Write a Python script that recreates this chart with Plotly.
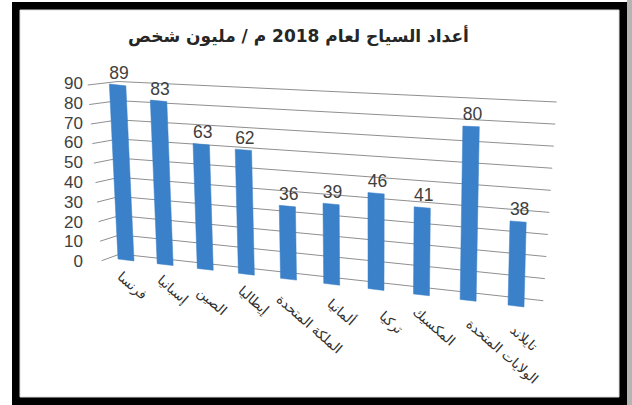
import plotly.graph_objects as go

# ---- data ----
categories = ["فرنسا", "إسبانيا", "الصين", "إيطاليا", "الملكة المتحدة",
              "ألمانيا", "تركيا", "المكسيك", "الولايات المتحدة", "تايلاند"]
tourists = [89, 83, 63, 62, 36, 39, 46, 41, 80, 38]
axis_ticks = [0, 10, 20, 30, 40, 50, 60, 70, 80, 90]
title_text = "أعداد السياح لعام 2018 م / مليون شخص"

# ---- perspective set-up (page pixels of the tilted plot planes) ----
W, H = 632, 405
AXIS_MAX = 90
BAR_PLANE = dict(a=(126, 260), b=(516, 306), c=(117.5, 83), d=(521, 106))
BACK_WALL = dict(a=(120, 254), b=(543.3, 300.7), c=(118, 81.5), d=(556.7, 102))
SIDE_WALL = dict(a=(101.7, 260.7), b=(120, 254), c=(87.7, 85), d=(118, 81.5))
DEPTH = 1.12
BAR_HALF = 0.0205
LABEL_SHIFT = [(-14, 7), (-13, 6), (-13, 13), (-13, 7), (-16, 10),
               (-9, 9), (-2, 17), (-13, 7), (-7, 14), (-10, 14)]


def warp(plane, s, t):
    out = []
    for k in (0, 1):
        out.append((1 - s) * (1 - t) * plane["a"][k] + s * (1 - t) * plane["b"][k]
                   + (1 - s) * t * plane["c"][k] + s * t * plane["d"][k])
    return out


def bar_point(s, t):
    # the bars' height grows faster towards the near (right) end of the plane
    x, y = warp(BAR_PLANE, s, t)
    base_y = warp(BAR_PLANE, s, 0)[1]
    h0 = BAR_PLANE["a"][1] - BAR_PLANE["c"][1]
    h1 = BAR_PLANE["b"][1] - BAR_PLANE["d"][1]
    return [x, base_y - t * (h0 + (h1 - h0) * max(s, 0) ** 1.6)]


def slot(i):
    u = i / (len(categories) - 1)
    return u / (u + DEPTH * (1 - u))


fig = go.Figure()

# frame
shapes = [
    dict(type="rect", xref="x", yref="y", x0=627, x1=632, y0=0, y1=405,
         fillcolor="#b4b4b4", line_width=0, layer="below"),
    dict(type="rect", xref="x", yref="y", x0=12, x1=627, y0=2, y1=405,
         fillcolor="#000000", line_width=0, layer="below"),
    dict(type="rect", xref="x", yref="y", x0=20, x1=619, y0=10, y1=397,
         fillcolor="#ffffff", line=dict(color="#dddddd", width=1), layer="below"),
]

# gridlines
for v in axis_ticks:
    t = v / AXIS_MAX
    p0 = warp(SIDE_WALL, 0, t)
    p1 = warp(BACK_WALL, 0, t)
    p2 = warp(BACK_WALL, 1, t)
    fig.add_trace(go.Scatter(x=[p0[0], p1[0], p2[0]], y=[p0[1], p1[1], p2[1]], mode="lines",
                             line=dict(color="#8f8f8f", width=1), hoverinfo="skip"))

# bars
for i, (name, v) in enumerate(zip(categories, tourists)):
    s = slot(i)
    t = v / AXIS_MAX
    corners = [bar_point(s - BAR_HALF, 0), bar_point(s + BAR_HALF, 0),
               bar_point(s + BAR_HALF, t), bar_point(s - BAR_HALF, t)]
    corners.append(corners[0])
    fig.add_trace(go.Scatter(x=[c[0] for c in corners], y=[c[1] for c in corners], mode="lines",
                             fill="toself", fillcolor="#3b81c9", line=dict(color="#3b81c9", width=0.5),
                             name=name))

# value labels
tops = [bar_point(slot(i), v / AXIS_MAX) for i, v in enumerate(tourists)]
fig.add_trace(go.Scatter(x=[p[0] + 1.5 for p in tops], y=[p[1] - 10.5 for p in tops],
                         mode="text", text=[str(v) for v in tourists], textposition="middle center",
                         textfont=dict(family="Liberation Sans", size=17.5, color="#404040"), hoverinfo="skip"))

# value-axis labels
fig.add_trace(go.Scatter(x=[83] * len(axis_ticks), y=[263 - 19.8 * v / 10 for v in axis_ticks],
                         mode="text", text=[str(v) for v in axis_ticks], textposition="middle left",
                         textfont=dict(family="Liberation Sans", size=17, color="#404040"), hoverinfo="skip"))

# category labels
annotations = []
for i, name in enumerate(categories):
    base = warp(BAR_PLANE, slot(i), 0)
    dx, dy = LABEL_SHIFT[i]
    annotations.append(dict(x=base[0] + dx, y=base[1] + dy, xref="x", yref="y", text=name,
                            showarrow=False, textangle=41, xanchor="left", yanchor="top",
                            borderpad=0,
                            font=dict(family="DejaVu Sans", size=13.5, color="#303030")))

annotations.append(dict(x=298, y=36, xref="x", yref="y", text="<b>" + title_text + "</b>", showarrow=False,
                        font=dict(family="DejaVu Sans", size=17, color="#262626"),
                        xanchor="center", yanchor="middle"))

fig.update_layout(
    width=W, height=H, margin=dict(l=0, r=0, t=0, b=0), showlegend=False,
    paper_bgcolor="#ffffff", plot_bgcolor="#ffffff",
    xaxis=dict(range=[0, W], visible=False, fixedrange=True),
    yaxis=dict(range=[H, 0], visible=False, fixedrange=True),
    shapes=shapes, annotations=annotations,
)

fig.write_html("out.html", config={"displayModeBar": False},
               post_script="document.body.style.margin='0';")
